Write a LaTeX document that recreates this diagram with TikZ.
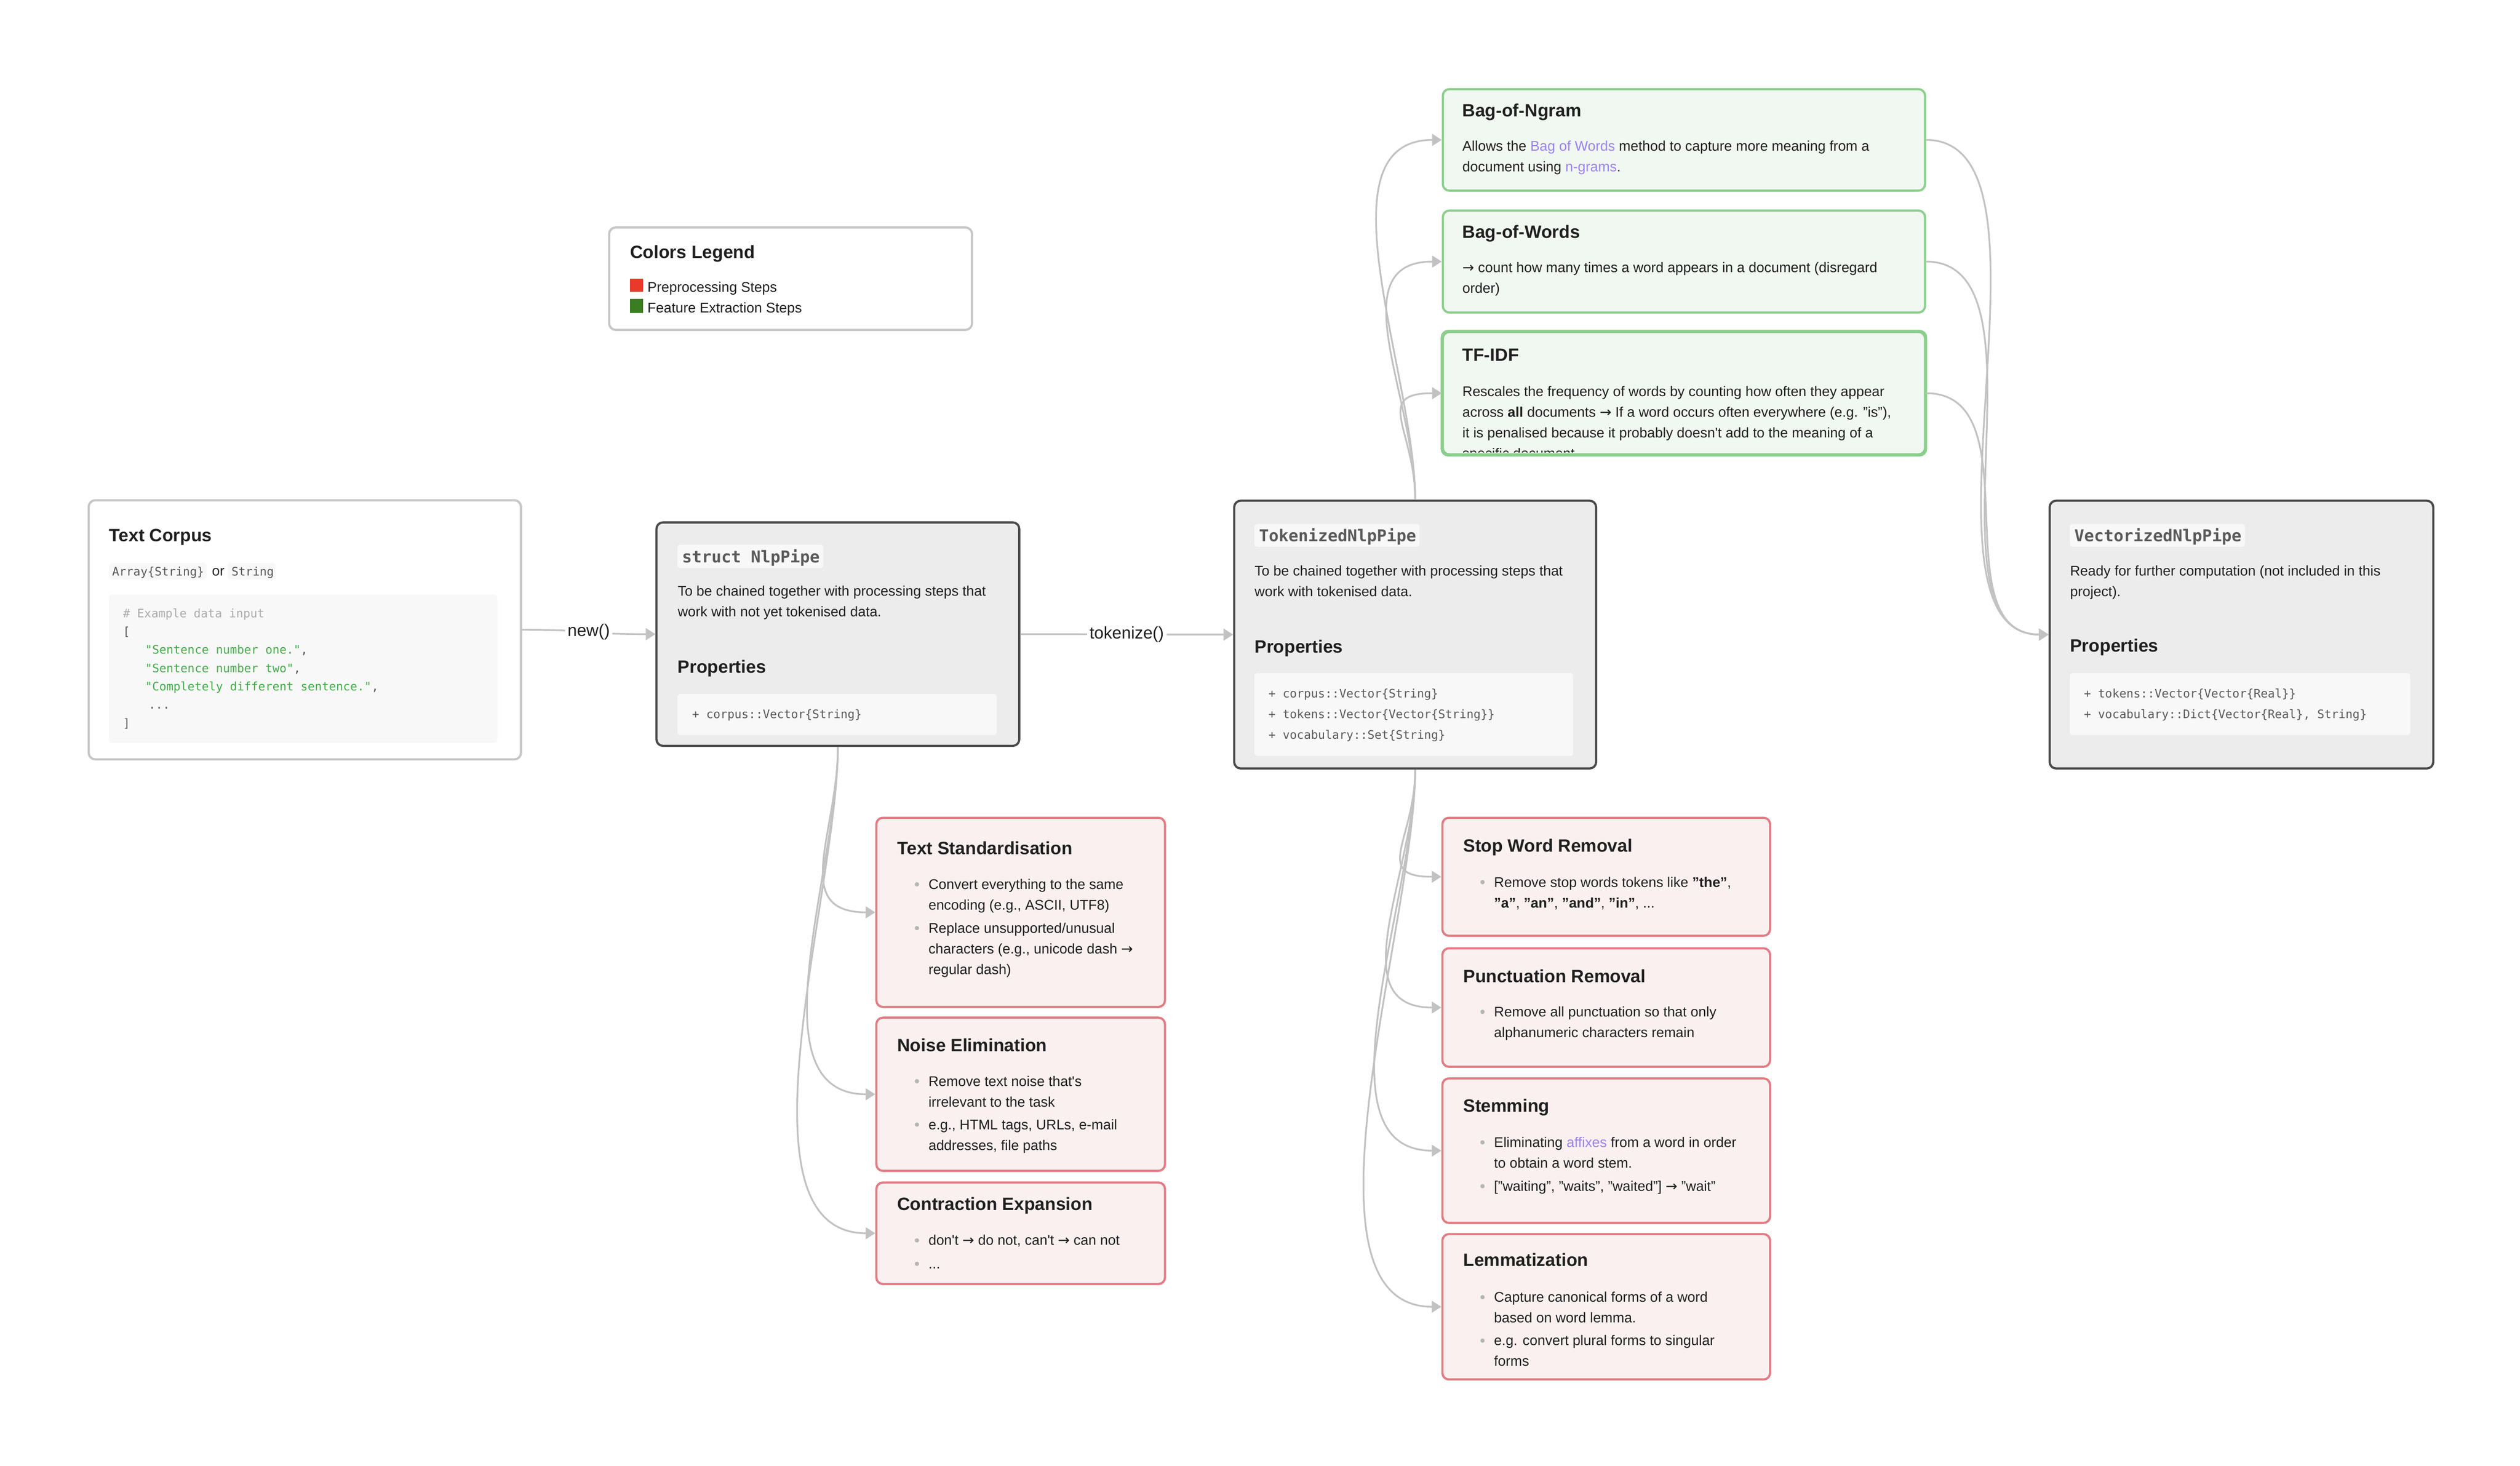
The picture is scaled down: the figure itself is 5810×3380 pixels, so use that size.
\documentclass[tikz,border=0pt]{standalone}
\usepackage{fontspec}
\setmainfont{Liberation Sans}
\setmonofont{DejaVu Sans Mono}
\newfontfamily\nlpsymfont{DejaVu Sans}
\usetikzlibrary{arrows.meta}

\definecolor{ink}{HTML}{1F1F1F}
\definecolor{codegray}{HTML}{5A5A5A}
\definecolor{commentgray}{HTML}{ABABAB}
\definecolor{strgreen}{HTML}{45AD4B}
\definecolor{boxdark}{HTML}{4A4A4A}
\definecolor{boxgray}{HTML}{ECECEC}
\definecolor{boxlight}{HTML}{C6C6C6}
\definecolor{pillbg}{HTML}{F8F8F8}
\definecolor{greenline}{HTML}{8CCF8D}
\definecolor{greenfill}{HTML}{F1F8F1}
\definecolor{redline}{HTML}{E27C84}
\definecolor{redfill}{HTML}{FBF0F0}
\definecolor{edgegray}{HTML}{C2C2C2}
\definecolor{linkpurple}{HTML}{9B82F3}
\definecolor{bulletgray}{HTML}{B5B5B5}
\definecolor{legendred}{HTML}{E8392A}
\definecolor{legendgreen}{HTML}{3A7D23}

\newcommand\nlpbody{\fontsize{9.2}{13.6}\selectfont}
\newcommand\nlphead{\fontsize{11.7}{14}\selectfont\bfseries}
\newcommand\nlpcode{\fontsize{7.7}{13.5}\selectfont\ttfamily}
\newcommand\nlpcodehead{\fontsize{10.7}{13}\selectfont\ttfamily\bfseries}
\newcommand\nlplabel{\fontsize{11.1}{13}\selectfont}
\newcommand\nlparr{{\nlpsymfont →}}
\newcommand\nlplink[1]{\textcolor{linkpurple}{#1}}
\newcommand\nlpq{\textquotesingle}

% multi-line nodes sit on the baseline of their last line
\tikzset{
  cardbox/.style={rounded corners=0.15cm, line width=0.05cm, anchor=north west, inner sep=0},
  plainbox/.style={cardbox, draw=boxlight, fill=white},
  pipebox/.style={cardbox, draw=boxdark, fill=boxgray},
  featbox/.style={cardbox, draw=greenline, fill=greenfill},
  prepbox/.style={cardbox, draw=redline, fill=redfill},
  headtext/.style={anchor=base west, inner sep=0, font=\nlphead, text=ink},
  bodytext/.style={anchor=base west, inner sep=0, font=\nlpbody, text=ink, align=left},
  codetext/.style={anchor=base west, inner sep=0, font=\nlpcode, text=codegray, align=left},
  codehead/.style={anchor=base west, inner sep=0, font=\nlpcodehead, text=codegray},
  pill/.style={fill=pillbg, rounded corners=0.07cm},
  flow/.style={draw=edgegray, line width=0.04cm, -{Triangle[length=0.22cm,width=0.27cm]}},
  calllabel/.style={fill=white, inner sep=0.06cm, font=\nlplabel, text=ink},
}

\begin{document}
\begin{tikzpicture}[x=0.01cm, y=-0.01cm]
  \useasboundingbox (0,0) rectangle (5810,3380);
  \fill[white] (0,0) rectangle (5810,3380);   % page

  % colors legend
  \node[plainbox, minimum width=8.36cm, minimum height=2.36cm] (legend) at (1402,522) {};
  \node[headtext] (legendtitle) at (1452,595) {Colors Legend};
  \fill[legendred] (1452,642) rectangle (1483,673);
  \node[bodytext] (legendprep) at (1492,673) {Preprocessing Steps};
  \fill[legendgreen] (1452,689) rectangle (1483,721);
  \node[bodytext] (legendfeat) at (1492,721) {Feature Extraction Steps};

  % text corpus
  \node[plainbox, minimum width=9.96cm, minimum height=5.97cm] (corpus) at (202,1151) {};
  \node[headtext] (corpustitle) at (251,1248) {Text Corpus};
  \fill[pill] (251,1298) rectangle (476,1336);
  \fill[pill] (525,1298) rectangle (636,1336);
  \node[codetext] (corpustype) at (258,1328) {Array\{String\}};
  \node[bodytext] (corpusor) at (488,1328) {or};
  \node[codetext] (corpusstr) at (533,1328) {String};
  \fill[pill] (251,1371) rectangle (1147,1713);   % example block
  \node[codetext, font={\fontsize{7.7}{12}\selectfont\ttfamily}] (corpusdata) at (283,1677)
    {\textcolor{commentgray}{\# Example data input}\\
     \relax[\\
     \hspace*{0.51cm}\textcolor{strgreen}{"Sentence number one."},\\
     \hspace*{0.51cm}\textcolor{strgreen}{"Sentence number two"},\\
     \hspace*{0.51cm}\textcolor{strgreen}{"Completely different sentence."},\\
     \hspace*{0.59cm}...\\
     ]};

  % struct NlpPipe
  \node[pipebox, minimum width=8.36cm, minimum height=5.15cm] (nlp) at (1511,1202) {};
  \fill[pill] (1562,1256) rectangle (1898,1310);
  \node[codehead] (nlptitle) at (1572,1297) {struct NlpPipe};
  \node[bodytext] (nlpdesc) at (1562,1422) {To be chained together with processing steps that\\work with not yet tokenised data.};
  \node[headtext] (nlpprops) at (1562,1552) {Properties};
  \fill[pill] (1562,1600) rectangle (2298,1695);
  \node[codetext] (nlpfields) at (1595,1656) {+ corpus::Vector\{String\}};

  % TokenizedNlpPipe
  \node[pipebox, minimum width=8.34cm, minimum height=6.17cm] (tok) at (2843,1152) {};
  \fill[pill] (2892,1208) rectangle (3273,1261);
  \node[codehead] (toktitle) at (2902,1249) {TokenizedNlpPipe};
  \node[bodytext] (tokdesc) at (2892,1375) {To be chained together with processing steps that\\work with tokenised data.};
  \node[headtext] (tokprops) at (2892,1505) {Properties};
  \fill[pill] (2892,1552) rectangle (3627,1743);
  \node[codetext] (tokfields) at (2924,1704) {+ corpus::Vector\{String\}\\+ tokens::Vector\{Vector\{String\}\}\\+ vocabulary::Set\{String\}};

  % VectorizedNlpPipe
  \node[pipebox, minimum width=8.84cm, minimum height=6.17cm] (vec) at (4723,1152) {};
  \fill[pill] (4772,1208) rectangle (5176,1261);
  \node[codehead] (vectitle) at (4782,1249) {VectorizedNlpPipe};
  \node[bodytext] (vecdesc) at (4772,1375) {Ready for further computation (not included in this\\project).};
  \node[headtext] (vecprops) at (4772,1503) {Properties};
  \fill[pill] (4772,1552) rectangle (5557,1695);
  \node[codetext] (vecfields) at (4804,1656) {+ tokens::Vector\{Vector\{Real\}\}\\+ vocabulary::Dict\{Vector\{Real\}, String\}};

  % feature extraction steps
  \node[featbox, minimum width=11.11cm, minimum height=2.34cm] (ngram) at (3324,203) {};
  \node[headtext] (ngramtitle) at (3371,269) {Bag-of-Ngram};
  \node[bodytext] (ngramdesc) at (3371,396) {Allows the \nlplink{Bag of Words} method to capture more meaning from a\\document using \nlplink{n-grams}.};
  \node[featbox, minimum width=11.11cm, minimum height=2.35cm] (bow) at (3324,483) {};
  \node[headtext] (bowtitle) at (3371,549) {Bag-of-Words};
  \node[bodytext] (bowdesc) at (3371,676) {\nlparr{} count how many times a word appears in a document (disregard\\order)};
  \node[featbox, minimum width=11.11cm, minimum height=2.82cm] (tfidf) at (3324,763) {};
  \node[headtext] (tfidftitle) at (3371,833) {TF-IDF};
  \begin{scope}
    \clip (3324,763) rectangle (4435,1043);   % last line is cut by the card
    \node[bodytext] (tfidfdesc) at (3371,1057) {Rescales the frequency of words by counting how often they appear\\across \textbf{all} documents \nlparr{} If a word occurs often everywhere (e.g. "is"),\\it is penalised because it probably doesn\nlpq t add to the meaning of a\\specific document.};
  \end{scope}
  \draw[greenline, line width=0.05cm, rounded corners=0.15cm] (tfidf.south west) rectangle (tfidf.north east);

  % preprocessing steps, raw text
  \node[prepbox, minimum width=6.65cm, minimum height=4.36cm] (stdz) at (2018,1883) {};
  \node[headtext] (stdztitle) at (2068,1970) {Text Standardisation};
  \node[bodytext] (stdzone) at (2140,2098) {Convert everything to the same\\encoding (e.g., ASCII, UTF8)};
  \node[bodytext] (stdztwo) at (2140,2247) {Replace unsupported/unusual\\characters (e.g., unicode dash \nlparr\\regular dash)};
  \node[prepbox, minimum width=6.65cm, minimum height=3.53cm] (noise) at (2018,2344) {};
  \node[headtext] (noisetitle) at (2068,2424) {Noise Elimination};
  \node[bodytext] (noiseone) at (2140,2552) {Remove text noise that\nlpq s\\irrelevant to the task};
  \node[bodytext] (noisetwo) at (2140,2652) {e.g., HTML tags, URLs, e-mail\\addresses, file paths};
  \node[prepbox, minimum width=6.65cm, minimum height=2.34cm] (contr) at (2018,2724) {};
  \node[headtext] (contrtitle) at (2068,2790) {Contraction Expansion};
  \node[bodytext] (controne) at (2140,2871) {don\nlpq t \nlparr{} do not, can\nlpq t \nlparr{} can not};
  \node[bodytext] (contrtwo) at (2140,2925) {...};
  \foreach \by in {2050,2151,2504,2604,2871,2925}
    \fill[bulletgray] (2114,\by-11) circle (0.05cm);

  % preprocessing steps, tokens
  \node[prepbox, minimum width=7.55cm, minimum height=2.72cm] (stop) at (3323,1883) {};
  \node[headtext] (stoptitle) at (3373,1964) {Stop Word Removal};
  \node[bodytext] (stopone) at (3444,2093) {Remove stop words tokens like \textbf{"the"},\\\textbf{"a"}, \textbf{"an"}, \textbf{"and"}, \textbf{"in"}, ...};
  \node[prepbox, minimum width=7.55cm, minimum height=2.73cm] (punct) at (3323,2184) {};
  \node[headtext] (puncttitle) at (3373,2265) {Punctuation Removal};
  \node[bodytext] (punctone) at (3444,2392) {Remove all punctuation so that only\\alphanumeric characters remain};
  \node[prepbox, minimum width=7.55cm, minimum height=3.33cm] (stem) at (3323,2484) {};
  \node[headtext] (stemtitle) at (3373,2564) {Stemming};
  \node[bodytext] (stemone) at (3444,2693) {Eliminating \nlplink{affixes} from a word in order\\to obtain a word stem.};
  \node[bodytext] (stemtwo) at (3444,2746) {["waiting", "waits", "waited"] \nlparr{} "wait"};
  \node[prepbox, minimum width=7.55cm, minimum height=3.35cm] (lemma) at (3323,2843) {};
  \node[headtext] (lemmatitle) at (3373,2920) {Lemmatization};
  \node[bodytext] (lemmaone) at (3444,3050) {Capture canonical forms of a word\\based on word lemma.};
  \node[bodytext] (lemmatwo) at (3444,3150) {e.g. convert plural forms to singular\\forms};
  \foreach \by in {2045,2344,2645,2746,3002,3102}
    \fill[bulletgray] (3418,\by-11) circle (0.05cm);

  % main pipeline
  \draw[flow] (corpus.east) .. controls +(177,0) and +(-177,0) .. (nlp.west)
    node[calllabel, pos=0.5] (newcall) {new()};
  \draw[flow] (nlp.east) .. controls +(223,0) and +(-223,0) .. (tok.west)
    node[calllabel, pos=0.5] (tokcall) {tokenize()};

  % NlpPipe to its steps
  \draw[flow] (nlp.south) .. controls +(0,198) and +(-198,0) .. (stdz.west);
  \draw[flow] (nlp.south) .. controls +(0,284) and +(-284,0) .. (noise.west);
  \draw[flow] (nlp.south) .. controls +(0,336) and +(-336,0) .. (contr.west);

  % TokenizedNlpPipe to its steps
  \draw[flow] (tok.south) .. controls +(0,161) and +(-161,0) .. (stop.west);
  \draw[flow] (tok.south) .. controls +(0,236) and +(-236,0) .. (punct.west);
  \draw[flow] (tok.south) .. controls +(0,297) and +(-297,0) .. (stem.west);
  \draw[flow] (tok.south) .. controls +(0,353) and +(-353,0) .. (lemma.west);
  \draw[flow] (tok.north) .. controls +(0,-289) and +(-289,0) .. (ngram.west);
  \draw[flow] (tok.north) .. controls +(0,-236) and +(-236,0) .. (bow.west);
  \draw[flow] (tok.north) .. controls +(0,-160) and +(-160,0) .. (tfidf.west);

  % features to VectorizedNlpPipe
  \draw[flow] (ngram.east) .. controls +(343,0) and +(-343,0) .. (vec.west);
  \draw[flow] (bow.east) .. controls +(301,0) and +(-301,0) .. (vec.west);
  \draw[flow] (tfidf.east) .. controls +(250,0) and +(-250,0) .. (vec.west);
\end{tikzpicture}
\end{document}
